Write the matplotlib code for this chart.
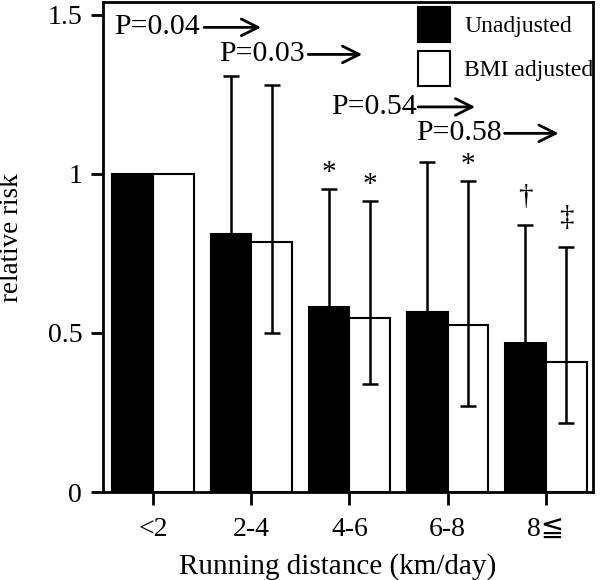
import numpy as np
import matplotlib
matplotlib.use("Agg")
import matplotlib.pyplot as plt

plt.rcParams['font.family'] = ['Liberation Serif', 'DejaVu Sans']

categories = ['<2', '2-4', '4-6', '6-8', '8≦']
unadjusted = [1.0, 0.81, 0.58, 0.565, 0.467]
unadjusted_hi = [1.0, 1.308, 0.951, 1.038, 0.84]
adjusted = [1.0, 0.787, 0.548, 0.526, 0.409]
adjusted_hi = [1.0, 1.279, 0.914, 0.977, 0.77]
adjusted_lo = [1.0, 0.5, 0.34, 0.271, 0.216]
p_values = ['P=0.04', 'P=0.03', 'P=0.54', 'P=0.58']
marks_unadj = ['', '', '*', '', '†']
marks_adj = ['', '', '*', '*', '‡']

x = np.arange(len(categories))
w = 0.415

fig = plt.figure(figsize=(6, 5.8), dpi=100)
ax = fig.add_axes([0.1717, 0.1517, 0.8166, 0.845])

ax.bar(x - w / 2, unadjusted, w, color='black', edgecolor='black', linewidth=1.5,
       label='Unadjusted', zorder=2)
ax.bar(x + w / 2, adjusted, w, color='white', edgecolor='black', linewidth=1.5,
       label='BMI adjusted', zorder=2)

# error bars (reference group has none)
u = np.array(unadjusted[1:])
a = np.array(adjusted[1:])
up_u = np.array(unadjusted_hi[1:]) - u
ax.errorbar(x[1:] - w / 2, u, yerr=[np.zeros_like(up_u), up_u], fmt='none',
            ecolor='black', elinewidth=1.8, capsize=5.5, capthick=1.8, zorder=3)
ax.errorbar(x[1:] + w / 2, a,
            yerr=[a - np.array(adjusted_lo[1:]), np.array(adjusted_hi[1:]) - a],
            fmt='none', ecolor='black', elinewidth=1.8, capsize=5.5, capthick=1.8,
            zorder=3)

# significance marks above the caps
for i in range(len(categories)):
    if marks_unadj[i]:
        off = 0.05 if marks_unadj[i] == '*' else 0.087
        ax.text(x[i] - w / 2, unadjusted_hi[i] + off, marks_unadj[i], ha='center',
                va='center', fontsize=21)
    if marks_adj[i]:
        off = 0.05 if marks_adj[i] == '*' else 0.09
        ax.text(x[i] + w / 2, adjusted_hi[i] + off, marks_adj[i], ha='center',
                va='center', fontsize=21)

# trend P values with arrows
p_pos = [(-0.40, 1.46, 0.52, 1.10), (0.67, 1.375, 1.58, 2.13),
         (1.81, 1.21, 2.70, 3.28), (2.68, 1.127, 3.58, 4.13)]
for txt, (tx, ty, a0, a1) in zip(p_values, p_pos):
    ax.text(tx, ty, txt, ha='left', va='center', fontsize=21.5)
    ax.annotate('', xy=(a1, ty), xytext=(a0, ty),
                arrowprops=dict(arrowstyle='->', lw=2, mutation_scale=30,
                                shrinkA=0, shrinkB=0))

ax.set_xlim(-0.51, 4.48)
ax.set_ylim(0, 1.54)
ax.set_xticks(x)
ax.set_xticklabels(categories)
ax.set_yticks([0, 0.5, 1, 1.5])
ax.set_yticklabels(['0', '0.5', '1', '1.5'])
ax.tick_params(direction='out', length=9, width=2, labelsize=20, pad=6)
ax.tick_params(axis='x', pad=9)
for s in ax.spines.values():
    s.set_linewidth(2)

ax.set_xlabel('Running distance (km/day)', fontsize=21)
ax.xaxis.set_label_coords(0.478, -0.125)
ax.set_ylabel('relative risk', fontsize=19.5)
ax.yaxis.set_label_coords(-0.162, 0.52)

ax.legend(loc='upper left', bbox_to_anchor=(0.643, 0.99), frameon=False,
          fontsize=17, handlelength=1.36, handleheight=1.9, handletextpad=0.6,
          labelspacing=0.38, borderpad=0, borderaxespad=0)

fig.savefig('out.png', dpi=100)
